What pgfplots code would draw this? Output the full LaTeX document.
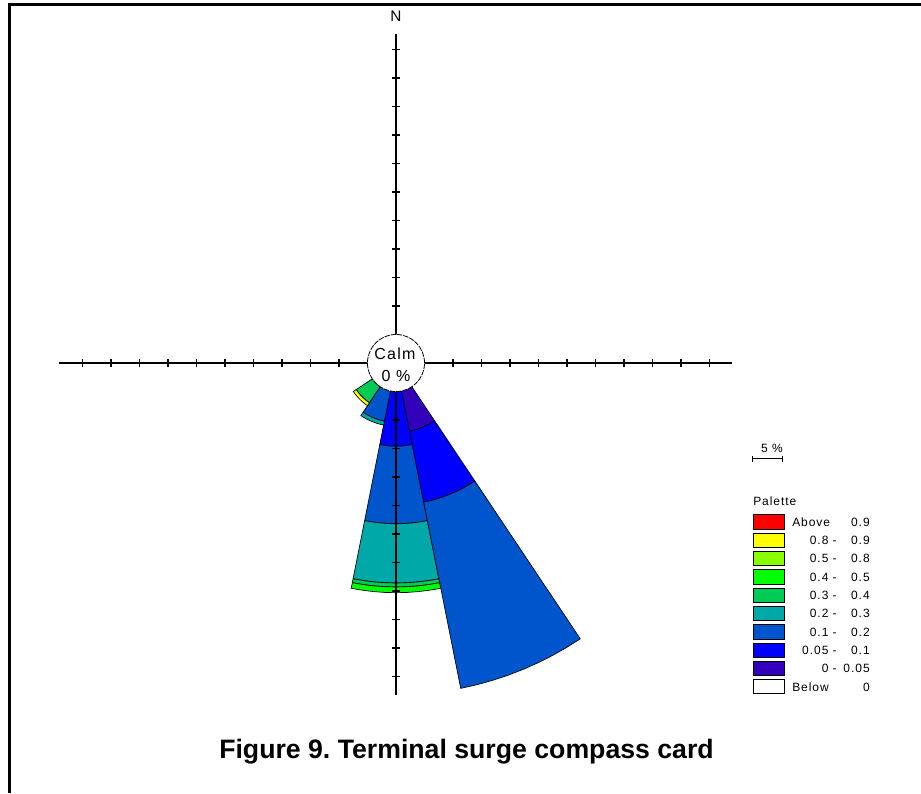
\documentclass[border=0pt]{standalone}
\usepackage{pgfplots}
\pgfplotsset{compat=1.18}
\usepackage{fontspec}
\setmainfont{Liberation Sans}
\newfontfamily\bmfont[LetterSpace=8]{Liberation Sans}
\frenchspacing

\definecolor{cA}{HTML}{FF0000}
\definecolor{cB}{HTML}{FFFF00}
\definecolor{cC}{HTML}{88FF00}
\definecolor{cD}{HTML}{00FF00}
\definecolor{cE}{HTML}{00CC55}
\definecolor{cF}{HTML}{00A8A8}
\definecolor{cG}{HTML}{0055CC}
\definecolor{cH}{HTML}{0000FF}
\definecolor{cI}{HTML}{3300BB}

% radius of the calm circle (in percent units)
\newcommand\calmr{5}
% #1 sector bearing (deg, clockwise from N), #2 inner cum. %, #3 outer cum. %, #4 colour
\newcommand\wedgeplot[4]{%
  \gdef\wpts{}%
  \foreach \k in {0,...,8}{%
    \pgfmathsetmacro\wang{90-#1-11.25+2.8125*\k}%
    \pgfmathsetmacro\wrad{\calmr+#3}%
    \xdef\wpts{\wpts(\wang,\wrad)}%
  }%
  \foreach \k in {8,...,0}{%
    \pgfmathsetmacro\wang{90-#1-11.25+2.8125*\k}%
    \pgfmathsetmacro\wrad{\calmr+#2}%
    \xdef\wpts{\wpts(\wang,\wrad)}%
  }%
  \edef\wdo{\noexpand\addplot[fill=#4,draw=black,line width=0.5pt,data cs=polar] coordinates {\wpts} -- cycle;}%
  \wdo
}

\begin{document}
\begin{tikzpicture}
\begin{axis}[
  x=4.275pt, y=4.275pt,
  xmin=-69.474, xmax=92.105, ymin=-75.439, ymax=63.684,
  hide axis, clip=false,
]
% S sector
\wedgeplot{180}{0}{9.6}{cH}
\wedgeplot{180}{9.6}{23.2}{cG}
\wedgeplot{180}{23.2}{33.6}{cF}
\wedgeplot{180}{33.6}{34.3}{cE}
\wedgeplot{180}{34.3}{35.3}{cD}
% SSE sector
\wedgeplot{157.5}{0}{7.2}{cI}
\wedgeplot{157.5}{7.2}{19.9}{cH}
\wedgeplot{157.5}{19.9}{53.2}{cG}
% SSW sector
\wedgeplot{202.5}{0}{5.4}{cG}
\wedgeplot{202.5}{5.4}{6.1}{cF}
% SW sector
\wedgeplot{225}{0}{3.4}{cE}
\wedgeplot{225}{3.4}{4.0}{cB}

% compass cross
\addplot[black, line width=1pt] coordinates {(-59.2,0) (59.0,0)};
\addplot[black, line width=1pt] coordinates {(0,-58.2) (0,57.7)};
\addplot[only marks, mark=|, mark size=2.8pt, mark options={line width=0.9pt}] coordinates {
(-55,0)(-50,0)(-45,0)(-40,0)(-35,0)(-30,0)(-25,0)(-20,0)(-15,0)(-10,0)
(10,0)(15,0)(20,0)(25,0)(30,0)(35,0)(40,0)(45,0)(50,0)(55,0)};
\addplot[only marks, mark=-, mark size=2.8pt, mark options={line width=0.9pt}] coordinates {
(0,-55)(0,-50)(0,-45)(0,-40)(0,-35)(0,-30)(0,-25)(0,-20)(0,-15)(0,-10)
(0,10)(0,15)(0,20)(0,25)(0,30)(0,35)(0,40)(0,45)(0,50)(0,55)};
% calm circle
\addplot[only marks, mark=*, mark size=21.4pt, mark options={fill=white, draw=black, line width=0.6pt, dash pattern=on 4pt off 0.8pt}] coordinates {(0,0)};
\end{axis}

\begin{scope}[shift={(current axis.north west)}, x=0.75pt, y=-0.75pt, every node/.style={inner sep=0pt}]
  \draw[line width=2.6pt] (9.5,4.3) -- (921,4.3);
  \draw[line width=2.6pt] (9.5,3) -- (9.5,793);
  \node[font=\fontsize{11.5}{13}\selectfont] at (396,16) {N};
  \node[font=\bmfont\fontsize{12}{14}\selectfont] at (395,354) {Calm};
  \node[font=\bmfont\fontsize{12}{14}\selectfont] at (396,376) {0 \%};
  % scale bar
  \draw[line width=0.75pt] (753,459) -- (783,459);
  \draw[line width=0.75pt] (753,456) -- (753,462);
  \draw[line width=0.75pt] (783,456) -- (783,462);
  \node[font=\bmfont\fontsize{9}{10}\selectfont] at (772,448) {5 \%};
  % palette
  \node[anchor=west, font=\bmfont\fontsize{9}{10}\selectfont] at (753,501) {Palette};
  \foreach \i/\c in {0/cA,1/cB,2/cC,3/cD,4/cE,5/cF,6/cG,7/cH,8/cI,9/white}{
    \draw[fill=\c, line width=0.75pt] (753.5,{515+18.3*\i}) rectangle (785,{529.3+18.3*\i});
  }
  \begin{scope}[every node/.append style={font=\bmfont\fontsize{9}{10}\selectfont}]
  \node[anchor=west] at (792,{522.2}) {Above};
  \node[anchor=east] at (870,{522.2}) {0.9};
  \foreach \i/\a/\b in {1/0.8/0.9,2/0.5/0.8,3/0.4/0.5,4/0.3/0.4,5/0.2/0.3,6/0.1/0.2,7/0.05/0.1,8/0/0.05}{
    \node[anchor=east] at (837,{522.2+18.3*\i}) {\a\ -};
    \node[anchor=east] at (870,{522.2+18.3*\i}) {\b};
  }
  \node[anchor=west] at (792,{522.2+18.3*9}) {Below};
  \node[anchor=east] at (870,{522.2+18.3*9}) {0};
  \end{scope}
  % caption
  \node[font=\bfseries\fontsize{20}{24}\selectfont] at (466.5,752) {Figure 9. Terminal surge compass card};
\end{scope}
\pgfresetboundingbox
\path (current axis.south west) rectangle (current axis.north east);
\end{tikzpicture}
\end{document}
